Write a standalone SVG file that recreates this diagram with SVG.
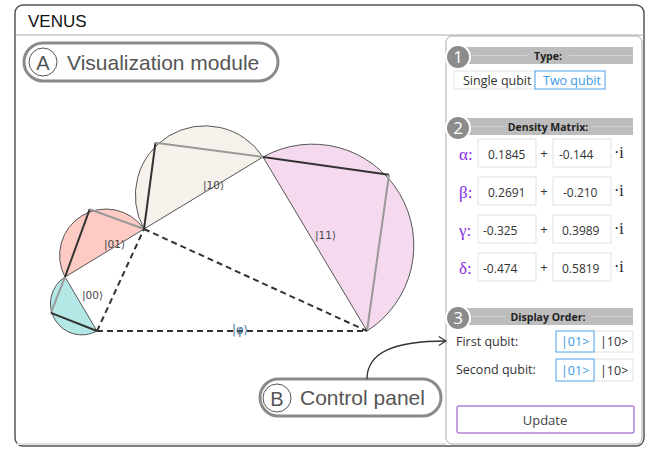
<svg xmlns="http://www.w3.org/2000/svg" width="650" height="449" viewBox="0 0 650 449">
<defs>
<marker id="arr" viewBox="0 0 10 12" refX="9" refY="6" markerWidth="9" markerHeight="11" orient="auto" markerUnits="userSpaceOnUse">
<path d="M1,1 L9,6 L1,11" fill="none" stroke="#333" stroke-width="1.3"/>
</marker>
<style>
.ui{font-family:"Open Sans","Noto Sans",sans-serif}
.sans{font-family:"Liberation Sans",Arial,sans-serif}
.serif{font-family:"Liberation Serif","Times New Roman",serif}
.band{fill:#bdbdbd}
.bandline{stroke:#d2d2d2;stroke-width:1}
.bandtxt{font-size:10.5px;font-weight:bold;fill:#222;text-anchor:middle}
.num{fill:#8c8c8c;stroke:#fff;stroke-width:2}
.numtxt{font-size:17px;fill:#fff;text-anchor:middle}
.box{fill:#fff;stroke:#e2e2e2;stroke-width:1}
.sel{fill:#fff;stroke:#4da3f0;stroke-width:1}
.val{font-size:12px;fill:#333}
.greek{font-size:17px;fill:#8a2be2}
.pill{fill:#fff;stroke:#8a8a8a;stroke-width:3}
.pilltxt{font-size:21px;fill:#555}
.semi{stroke:#555;stroke-width:1}
.dk{stroke:#333;stroke-width:2;fill:none}
.lt{stroke:#999;stroke-width:2;fill:none}
.dash{stroke:#333;stroke-width:2;stroke-dasharray:6 4;fill:none}
.ket{font-family:"DejaVu Sans",sans-serif;font-size:10.5px;fill:#444}
</style>
</defs>
<rect width="650" height="449" fill="#fff"/>
<g id="frame">
<rect x="15" y="5" width="629" height="441" rx="8" fill="#fff" stroke="#555" stroke-width="1.5"/>
<line x1="15" y1="35" x2="644" y2="35" stroke="#aaa" stroke-width="1"/>
<line x1="17" y1="444" x2="446" y2="444" stroke="#e2e2e2" stroke-width="2"/>
<text x="28" y="27" class="sans" font-size="17" fill="#111">VENUS</text>
</g>

<g id="visualization">
<path d="M65,277 A31.4,31.4 0 0 0 97,331 Z" fill="#b3e8e6" class="semi"/>
<path d="M65,277 A46.3,46.3 0 0 1 144,229 Z" fill="#fdcbc3" class="semi"/>
<path d="M144,229 A69.6,69.6 0 0 1 263,157 Z" fill="#f6f1ea" class="semi"/>
<path d="M263,157 A101.4,101.4 0 0 1 367,331 Z" fill="#f4d9ef" class="semi"/>
<line x1="65" y1="277" x2="50.9" y2="312.9" class="lt"/>
<line x1="50.9" y1="312.9" x2="97" y2="331" class="dk"/>
<line x1="65" y1="277" x2="89.7" y2="209.2" class="dk"/>
<line x1="89.7" y1="209.2" x2="144" y2="229" class="lt"/>
<line x1="144" y1="229" x2="155.5" y2="142.7" class="dk"/>
<line x1="155.5" y1="142.7" x2="263" y2="157" class="lt"/>
<line x1="263" y1="157" x2="389" y2="174.8" class="dk"/>
<line x1="389" y1="174.8" x2="367" y2="331" class="lt"/>
<line x1="97" y1="331" x2="367" y2="331" class="dash"/>
<line x1="97" y1="331" x2="144" y2="229" class="dash"/>
<line x1="144" y1="229" x2="367" y2="331" class="dash"/>
<text x="82" y="299" class="ket">|00⟩</text>
<text x="104" y="248" class="ket">|01⟩</text>
<text x="203" y="189" class="ket">|10⟩</text>
<text x="315" y="239" class="ket">|11⟩</text>
<text x="240" y="334" class="ket" font-size="11.5" fill="#3d6a8f" text-anchor="middle" style="fill:#3d6a8f;font-size:11.5px">|φ⟩</text>
</g>

<g id="label-a">
<rect x="24" y="43" width="254" height="38" rx="19" class="pill"/>
<circle cx="43" cy="62" r="14" fill="none" stroke="#555" stroke-width="1"/>
<text x="43" y="69.5" class="sans" font-size="20" fill="#555" text-anchor="middle">A</text>
<text x="67" y="70" class="sans pilltxt">Visualization module</text>
</g>

<g id="panel">
<rect x="446" y="36" width="196" height="408" rx="6" fill="#fff" stroke="#aaa" stroke-width="1"/>
</g>

<g id="section-type">
<rect x="465" y="47" width="168" height="17" class="band"/>
<line x1="473" y1="55.5" x2="527" y2="55.5" class="bandline"/>
<line x1="569" y1="55.5" x2="632" y2="55.5" class="bandline"/>
<text x="548" y="60" class="ui bandtxt">Type:</text>
<circle cx="458" cy="57" r="12" class="num"/>
<text x="458" y="63" class="ui numtxt">1</text>
<rect x="454" y="71" width="81" height="18" class="box"/>
<text x="463" y="84.5" class="ui" font-size="12.5" fill="#333">Single qubit</text>
<rect x="535" y="71" width="70" height="18" class="sel"/>
<text x="543" y="84.5" class="ui" font-size="12.5" fill="#3a9ae8">Two qubit</text>
</g>

<g id="section-density">
<rect x="465" y="118" width="168" height="17" class="band"/>
<line x1="473" y1="126.5" x2="503" y2="126.5" class="bandline"/>
<line x1="592" y1="126.5" x2="632" y2="126.5" class="bandline"/>
<text x="548" y="131" class="ui bandtxt">Density Matrix:</text>
<circle cx="458" cy="128" r="12" class="num"/>
<text x="458" y="134" class="ui numtxt">2</text>

<text x="459" y="160" class="serif greek">α:</text>
<rect x="478" y="139" width="58" height="28" class="box"/>
<text x="488" y="158.5" class="ui val">0.1845</text>
<text x="544" y="158" class="ui" font-size="13" fill="#333" text-anchor="middle">+</text>
<rect x="553" y="139" width="58" height="28" class="box"/>
<text x="559" y="158.5" class="ui val">-0.144</text>
<text x="614" y="158" class="serif" font-size="16" fill="#222">·i</text>

<text x="459" y="198" class="serif greek">β:</text>
<rect x="478" y="177" width="58" height="28" class="box"/>
<text x="488" y="196.5" class="ui val">0.2691</text>
<text x="544" y="196" class="ui" font-size="13" fill="#333" text-anchor="middle">+</text>
<rect x="553" y="177" width="58" height="28" class="box"/>
<text x="563" y="196.5" class="ui val">-0.210</text>
<text x="614" y="196" class="serif" font-size="16" fill="#222">·i</text>

<text x="459" y="236" class="serif greek">γ:</text>
<rect x="478" y="215" width="58" height="28" class="box"/>
<text x="483" y="234.5" class="ui val">-0.325</text>
<text x="544" y="234" class="ui" font-size="13" fill="#333" text-anchor="middle">+</text>
<rect x="553" y="215" width="58" height="28" class="box"/>
<text x="562" y="234.5" class="ui val">0.3989</text>
<text x="614" y="234" class="serif" font-size="16" fill="#222">·i</text>

<text x="459" y="274" class="serif greek">δ:</text>
<rect x="478" y="253" width="58" height="28" class="box"/>
<text x="483" y="272.5" class="ui val">-0.474</text>
<text x="544" y="272" class="ui" font-size="13" fill="#333" text-anchor="middle">+</text>
<rect x="553" y="253" width="58" height="28" class="box"/>
<text x="562" y="272.5" class="ui val">0.5819</text>
<text x="614" y="272" class="serif" font-size="16" fill="#222">·i</text>
</g>

<g id="section-order">
<rect x="465" y="308" width="168" height="17" class="band"/>
<line x1="473" y1="316.5" x2="505" y2="316.5" class="bandline"/>
<line x1="591" y1="316.5" x2="632" y2="316.5" class="bandline"/>
<text x="548" y="321" class="ui bandtxt">Display Order:</text>
<circle cx="458" cy="318" r="12" class="num"/>
<text x="458" y="324" class="ui numtxt">3</text>

<text x="456" y="346" class="ui" font-size="12.5" fill="#333">First qubit:</text>
<rect x="594" y="331" width="39" height="21" class="box"/>
<text x="600" y="346" class="ui" font-size="12.5" fill="#333">|10&gt;</text>
<rect x="556" y="331" width="38" height="21" class="sel"/>
<text x="561" y="346" class="ui" font-size="12.5" fill="#3a9ae8">|01&gt;</text>

<text x="456" y="374" class="ui" font-size="12.5" fill="#333">Second qubit:</text>
<rect x="594" y="359" width="39" height="22" class="box"/>
<text x="600" y="374.5" class="ui" font-size="12.5" fill="#333">|10&gt;</text>
<rect x="556" y="359" width="38" height="22" class="sel"/>
<text x="561" y="374.5" class="ui" font-size="12.5" fill="#3a9ae8">|01&gt;</text>

<rect x="457" y="406" width="177" height="27" rx="2" fill="#fff" stroke="#b584d9" stroke-width="1.5"/>
<text x="545" y="424.5" class="ui" font-size="13" fill="#444" text-anchor="middle">Update</text>
</g>

<g id="label-b">
<rect x="260" y="379" width="181" height="37" rx="18.5" class="pill"/>
<circle cx="277" cy="398" r="14" fill="none" stroke="#555" stroke-width="1"/>
<text x="277" y="405.5" class="sans" font-size="20" fill="#555" text-anchor="middle">B</text>
<text x="300" y="405" class="sans pilltxt">Control panel</text>
</g>

<g id="connectors">
<path d="M367,379 C367,352 395,341 446,341" fill="none" stroke="#333" stroke-width="1.3" marker-end="url(#arr)"/>
</g>
</svg>
